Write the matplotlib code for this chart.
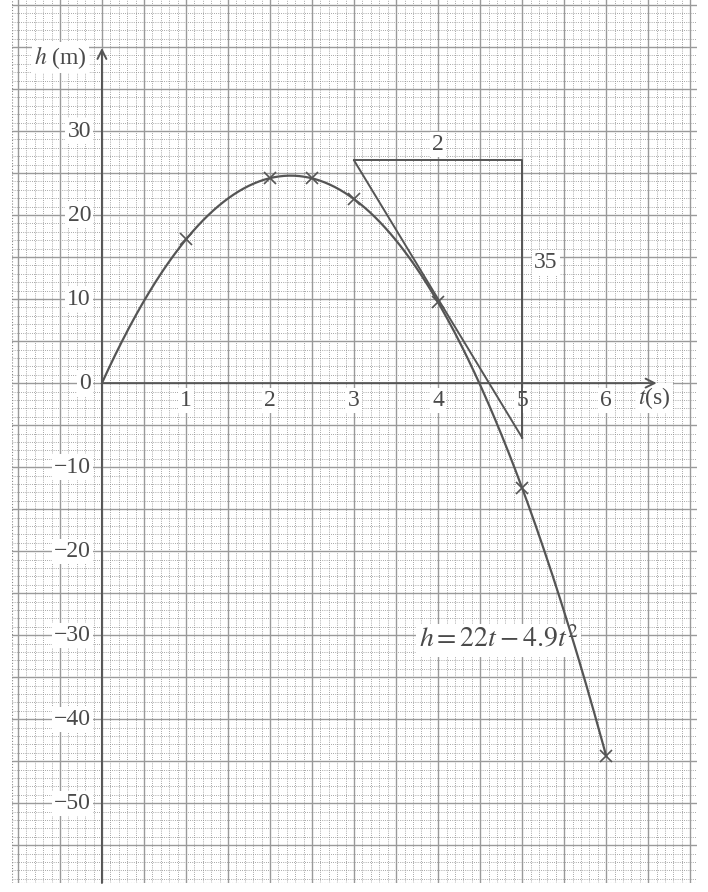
import numpy as np
import matplotlib.pyplot as plt

plt.rcParams['font.family'] = ['Liberation Serif', 'DejaVu Serif']
plt.rcParams['mathtext.fontset'] = 'stix'

# values
coef_a = 22      # h = 22t - 4.9t^2
coef_b = 4.9
t_marks = [1, 2, 2.5, 3, 4, 5, 6]
h_marks = [17.1, 24.4, 24.4, 21.9, 9.6, -12.5, -44.4]
t_ticks = [1, 2, 3, 4, 5, 6]
h_ticks = [30, 20, 10, 0, -10, -20, -30, -40, -50]
tangent_t = [3, 5]
tangent_h = [26.5, -6.5]
run_label = '2'
rise_label = '35'

ink = '#555555'
txt = '#4a4a4a'

fig = plt.figure(figsize=(7.08, 8.92), dpi=100)
ax = fig.add_axes([12/708, 9/892, 685/708, 883/892])
ax.set_xlim(-1.07, 7.08)
ax.set_ylim(-59.5, 45.6)
ax.set_axis_off()

# graph paper
for x in np.arange(-1.0, 7.05, 0.1):
    ax.axvline(x, color='#8a8a8a', lw=0.6, ls=(0, (1, 1.6)), zorder=0)
for y in np.arange(-59, 46, 1):
    ax.axhline(y, color='#8a8a8a', lw=0.6, ls=(0, (1, 1.6)), zorder=0)
for x in np.arange(-1.0, 7.05, 0.5):
    ax.axvline(x, color='#9a9a9a', lw=1.0, zorder=0.5)
for y in np.arange(-55, 46, 5):
    ax.axhline(y, color='#9a9a9a', lw=1.0, zorder=0.5)
ax.plot([-1.07, -1.07], [-59.5, 45.6], color='#8a8a8a', lw=0.8, ls=(0, (1, 1.6)))
ax.plot([-1.07, 7.08], [-59.5, -59.5], color='#8a8a8a', lw=0.8, ls=(0, (1, 1.6)))

# axes with open arrowheads
arrow = dict(arrowstyle='->', color=ink, lw=1.4, shrinkA=0, shrinkB=0, mutation_scale=16)
ax.annotate('', xy=(0, 39.9), xytext=(0, -59.5), arrowprops=arrow, zorder=3)
ax.annotate('', xy=(6.6, 0), xytext=(0, 0), arrowprops=arrow, zorder=3)

# curve and plotted points
t = np.linspace(0, 6, 300)
ax.plot(t, coef_a * t - coef_b * t**2, color=ink, lw=1.6, zorder=4)
ax.plot(t_marks, h_marks, 'x', color=ink, ms=8, mew=1.2, zorder=5)

# tangent with gradient triangle
ax.plot(tangent_t, tangent_h, color=ink, lw=1.4, zorder=4)
ax.plot([tangent_t[0], tangent_t[1], tangent_t[1]],
        [tangent_h[0], tangent_h[0], tangent_h[1]], color=ink, lw=1.4, zorder=4)

box = dict(fc='white', ec='none', pad=1.5)
ax.text(4.0, 28.4, run_label, ha='center', va='center', fontsize=17, color=txt, bbox=box)
ax.text(5.28, 14.4, rise_label, ha='center', va='center', fontsize=17, color=txt, bbox=box)

for v in h_ticks:
    lab = str(v).replace('-', '\u2212')
    ax.text(-0.13, v, lab, ha='right', va='center', fontsize=17, color=txt, bbox=box, zorder=2)
for v in t_ticks:
    ax.text(v, -2.1, str(v), ha='center', va='center', fontsize=17, color=txt, bbox=box, zorder=2)

ax.text(-0.18, 38.8, r'$h$ (m)', ha='right', va='center', fontsize=17, color=txt, bbox=box, zorder=2)
ax.text(6.38, -1.8, r'$t$(s)', ha='left', va='center', fontsize=17, color=txt, bbox=box, zorder=2)
ax.text(4.72, -30.6, r'$h = 22t - 4.9t^2$', ha='center', va='center', fontsize=20,
        color=txt, bbox=dict(fc='white', ec='none', pad=2), zorder=3)

fig.savefig('out.png', dpi=100, facecolor='white')
